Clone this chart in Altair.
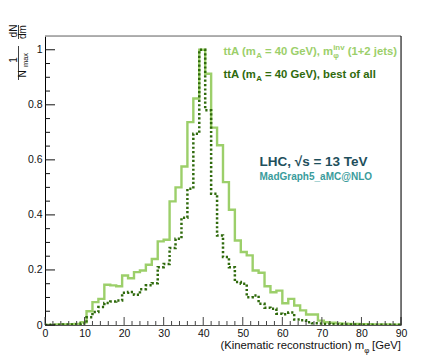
import altair as alt
import pandas as pd

# ---------------- data ----------------
bin_width = 1.5
n_bins = 60
edges = [round(i * bin_width, 2) for i in range(n_bins + 1)]

# light green solid: ttA (mA = 40 GeV), m_phi^inv (1+2 jets)
green = [0.0, 0.0, 0.002, 0.002, 0.003, 0.004, 0.01, 0.05, 0.083, 0.095,
         0.146, 0.144, 0.141, 0.18, 0.17, 0.192, 0.198, 0.219, 0.24, 0.304,
         0.31, 0.449, 0.50, 0.576, 0.737, 0.823, 1.0, 0.913, 0.717, 0.653,
         0.519, 0.419, 0.307, 0.265, 0.253, 0.198, 0.19, 0.141, 0.119, 0.125,
         0.079, 0.095, 0.071, 0.053, 0.038, 0.038, 0.016, 0.01, 0.008, 0.006,
         0.005, 0.004, 0.004, 0.003, 0.003, 0.002, 0.002, 0.002, 0.001, 0.001]

# dark green dotted: ttA (mA = 40 GeV), best of all
dotted = [0.0, 0.001, 0.001, 0.002, 0.002, 0.003, 0.005, 0.028, 0.047, 0.065,
          0.08, 0.085, 0.089, 0.117, 0.12, 0.11, 0.13, 0.144, 0.152, 0.21,
          0.222, 0.28, 0.313, 0.39, 0.495, 0.695, 1.0, 0.78, 0.477, 0.325,
          0.247, 0.21, 0.156, 0.15, 0.101, 0.107, 0.077, 0.063, 0.059, 0.041,
          0.039, 0.045, 0.02, 0.017, 0.01, 0.006, 0.005, 0.004, 0.003, 0.003,
          0.002, 0.002, 0.002, 0.001, 0.001, 0.001, 0.001, 0.001, 0.001, 0.001]

x_major = [0, 10, 20, 30, 40, 50, 60, 70, 80, 90]
x_minor = [v for v in range(0, 91, 2) if v % 10 != 0]
y_major = [0, 0.2, 0.4, 0.6, 0.8, 1.0]
y_minor = [round(0.05 * i, 2) for i in range(21) if i % 4 != 0]

W, H = 356, 289
PL, PT, PB = 37, 28, 35
C_LIGHT = "#9ccf6a"
C_DARK = "#2f6a0c"
FONT = "Liberation Sans"

# ---------------- text width helper (Arial metrics) ----------------
REG = {' ': 278, '(': 333, ')': 333, '[': 278, ']': 278, 'K': 667, 'i': 222, 'n': 556,
       'e': 556, 'm': 833, 'a': 556, 't': 278, 'c': 500, 'r': 333, 'o': 556, 's': 500,
       'u': 556, 'G': 778, 'V': 667, 'φ': 600}
BOLD = {' ': 278, '(': 333, ')': 333, 't': 333, 'A': 722, 'm': 889, '=': 584, '4': 556,
        '0': 556, 'G': 778, 'e': 556, 'V': 667, ',': 278, '1': 556, '+': 584, '2': 556,
        'j': 278, 's': 556, 'b': 611, 'o': 611, 'f': 333, 'a': 556, 'l': 278, 'i': 278,
        'n': 611, 'v': 556, 'φ': 650}


def tw(s, size, bold):
    tab = BOLD if bold else REG
    return sum(tab.get(ch, 556) for ch in s) * size / 1000.0


def text_layer(txt, x, y, size, color, bold=False, align="left", angle=0, baseline="alphabetic"):
    # leading / trailing spaces are collapsed in SVG: turn them into offsets
    if align == "left" and not angle:
        lead = len(txt) - len(txt.lstrip(" "))
        x = x + tw(" " * lead, size, bold)
        txt = txt.strip(" ")
    kw = dict(text=txt, font=FONT, fontSize=size, color=color, align=align,
              baseline=baseline, fontWeight="bold" if bold else "normal")
    if angle:
        kw["angle"] = angle
    return alt.Chart(pd.DataFrame({"a": [0]})).mark_text(**kw).encode(
        x=alt.value(x), y=alt.value(y))


def rich_line(segments, x0, y0, size, color, bold):
    """segments: list of (text, kind) kind in normal/sub/subsup"""
    layers = []
    x = x0
    small = size * 0.7
    for seg in segments:
        kind = seg[1]
        if kind == "normal":
            layers.append(text_layer(seg[0], x, y0, size, color, bold))
            x += tw(seg[0], size, bold)
        elif kind == "sub":
            layers.append(text_layer(seg[0], x, y0 + size * 0.3, small, color, bold))
            x += tw(seg[0], small, bold)
        elif kind == "subsup":
            sub, sup = seg[0]
            layers.append(text_layer(sub, x, y0 + size * 0.3, small, color, bold))
            layers.append(text_layer(sup, x, y0 - size * 0.45, small, color, bold))
            x += max(tw(sub, small, bold), tw(sup, small, bold))
    return layers


# ---------------- histogram lines ----------------
df = pd.DataFrame({
    "m": edges + edges,
    "v": green + [green[-1]] + dotted + [dotted[-1]],
    "s": ["inv"] * (n_bins + 1) + ["best"] * (n_bins + 1),
})

xscale = alt.Scale(domain=[0, 90], nice=False, zero=False)
yscale = alt.Scale(domain=[0, 1.05], nice=False, zero=False)
xaxis = alt.Axis(values=x_major, ticks=False, grid=False, title=None, domainColor="#555",
                 labelFont=FONT, labelFontSize=10.5, labelColor="#111", labelPadding=3,
                 labelFlush=False)
yaxis = alt.Axis(values=y_major, ticks=False, grid=False, title=None, domainColor="#000",
                 labelFont=FONT, labelFontSize=10.5, labelColor="#111", labelPadding=3,
                 labelExpr="format(datum.value, '.1~f')", labelFlush=False)

line_inv = alt.Chart(df[df.s == "inv"]).mark_line(
    interpolate="step-after", color=C_LIGHT, strokeWidth=2.4, clip=True
).encode(x=alt.X("m:Q", scale=xscale, axis=xaxis), y=alt.Y("v:Q", scale=yscale, axis=yaxis))

line_best = alt.Chart(df[df.s == "best"]).mark_line(
    interpolate="step-after", color=C_DARK, strokeWidth=2.5, strokeDash=[2.2, 2.2], clip=True
).encode(x=alt.X("m:Q", scale=xscale, axis=xaxis), y=alt.Y("v:Q", scale=yscale, axis=yaxis))

# ---------------- ticks (ROOT style, inside) ----------------
tick_col = "#444"
xmaj = alt.Chart(pd.DataFrame({"t": x_major})).mark_rule(color=tick_col, strokeWidth=1).encode(
    x=alt.X("t:Q", scale=xscale, axis=xaxis), y=alt.value(H), y2=alt.value(H - 8))
xmin = alt.Chart(pd.DataFrame({"t": x_minor})).mark_rule(color=tick_col, strokeWidth=1).encode(
    x=alt.X("t:Q", scale=xscale, axis=xaxis), y=alt.value(H), y2=alt.value(H - 4))
ymaj = alt.Chart(pd.DataFrame({"t": y_major})).mark_rule(color="#111", strokeWidth=1).encode(
    y=alt.Y("t:Q", scale=yscale, axis=yaxis), x=alt.value(0), x2=alt.value(10))
ymin = alt.Chart(pd.DataFrame({"t": y_minor})).mark_rule(color="#111", strokeWidth=1).encode(
    y=alt.Y("t:Q", scale=yscale, axis=yaxis), x=alt.value(0), x2=alt.value(5))

one = pd.DataFrame({"a": [0]})
frame_top = alt.Chart(one).mark_rule(color="#999", strokeWidth=1.5).encode(
    x=alt.value(0), x2=alt.value(W), y=alt.value(0))
frame_right = alt.Chart(one).mark_rule(color="#000", strokeWidth=1).encode(
    x=alt.value(W), y=alt.value(0), y2=alt.value(H))

# ---------------- texts ----------------
texts = []
leg_x = 223.5 - 45
texts += rich_line([("ttA (m", "normal"), ("A", "sub"), (" = 40 GeV), m", "normal"),
                    (("φ", "inv"), "subsup"), (" (1+2 jets)", "normal")],
                   leg_x, 55 - PT - 8, 11.3, C_LIGHT, True)
texts += rich_line([("ttA (m", "normal"), ("A", "sub"), (" = 40 GeV), best of all", "normal")],
                   leg_x, 77.5 - PT - 8, 11.3, C_DARK, True)
texts.append(text_layer("LHC, √s = 13 TeV", 259.5 - 45, 166 - 36, 13.5, "#1e4f5c", True))
texts.append(text_layer("MadGraph5_aMC@NLO", 259.5 - 45, 179.5 - 36, 10, "#3a9c9c", True))

# x title, right aligned at plot right edge
xt_size = 11.3
p1 = "(Kinematic reconstruction) m"
p2 = "φ"
p3 = " [GeV]"
sub = xt_size * 0.7
total = tw(p1, xt_size, False) + tw(p2, sub, False) + tw(p3, xt_size, False)
x0 = W - total
xt_y = 349.3 - 36
texts.append(text_layer(p1, x0, xt_y, xt_size, "#111"))
texts.append(text_layer(p2, x0 + tw(p1, xt_size, False), xt_y + 3.5, sub, "#111"))
texts.append(text_layer(p3, x0 + tw(p1, xt_size, False) + tw(p2, sub, False), xt_y, xt_size, "#111"))

# y title: 1/N_max dN/dm (rotated)
yt_size = 10
num_x = 14 - 45
den_x = 23 - 45
bar_x = 18.5 - 45
texts.append(text_layer("dN", num_x, 31 - 36, yt_size, "#111", angle=270, align="center", baseline="middle"))
texts.append(text_layer("dm", den_x, 32 - 36, yt_size, "#111", angle=270, align="center", baseline="middle"))
texts.append(text_layer("1", num_x, 60 - 36, yt_size, "#111", angle=270, align="center", baseline="middle"))
texts.append(text_layer("N", den_x, 74 - 36, yt_size, "#111", angle=270, align="center", baseline="middle"))
texts.append(text_layer("max", den_x + 3, 60 - 36, 7.5, "#111", angle=270, align="center", baseline="middle"))
bars = alt.Chart(pd.DataFrame({"a": [0]})).mark_rule(color="#111", strokeWidth=0.8).encode(
    x=alt.value(bar_x), y=alt.value(25 - 36), y2=alt.value(39 - 36))
bars2 = alt.Chart(pd.DataFrame({"a": [0]})).mark_rule(color="#111", strokeWidth=0.8).encode(
    x=alt.value(bar_x), y=alt.value(46 - 36), y2=alt.value(80 - 36))

chart = alt.layer(
    line_inv, line_best, xmaj, xmin, ymaj, ymin, frame_top, frame_right, bars, bars2, *texts
).properties(
    width=W, height=H,
    autosize=alt.AutoSizeParams(type="none"),
    padding={"left": PL, "top": PT, "right": 430 - PL - W, "bottom": PB},
).configure_view(stroke=None).configure(background="white")

chart.save("out.html", embed_options={"renderer": "svg", "actions": False})
